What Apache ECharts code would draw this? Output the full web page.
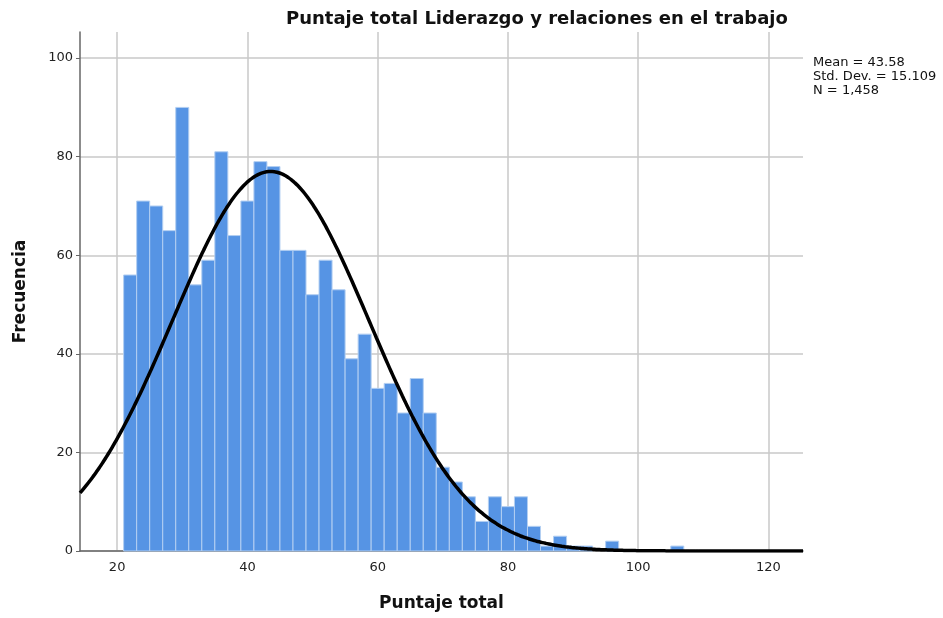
<!DOCTYPE html>
<html lang="es">
<head>
	<meta charset="UTF-8">
	<title>Puntaje total Liderazgo y relaciones en el trabajo</title>
	<script src="https://cdn.jsdelivr.net/npm/echarts@6/dist/echarts.min.js"></script>
</head>
<body style="margin:0">
	<div id="main" style="width:943px; height:618px"></div>
	<script>
		// histograma: inicio de cada intervalo (ancho 2) y su frecuencia
		var binWidth = 2;
		var binStarts = [21, 23, 25, 27, 29, 31, 33, 35, 37, 39, 41, 43, 45, 47, 49, 51, 53, 55, 57, 59,
			61, 63, 65, 67, 69, 71, 73, 75, 77, 79, 81, 83, 85, 87, 89, 91, 93, 95, 97, 99, 101, 103, 105];
		var counts = [56, 71, 70, 65, 90, 54, 59, 81, 64, 71, 79, 78, 61, 61, 52, 59, 53, 39, 44, 33,
			34, 28, 35, 28, 17, 14, 11, 6, 11, 9, 11, 5, 1, 3, 1, 1, 0, 2, 0, 0, 0, 0, 1];
		var xTicks = [20, 40, 60, 80, 100, 120];
		var yTicks = [0, 20, 40, 60, 80, 100];
		// estadisticos que muestra el grafico
		var mean = 43.58;
		var sd = 15.109;
		var n = 1458;
		var xMin = 14.3, xMax = 125.3, yMax = 105.3;

		var bars = [];
		for (var i = 0; i < binStarts.length; i++) {
			if (counts[i] > 0) bars.push([binStarts[i], counts[i]]);
		}
		// curva normal ajustada con la media, desv. y N de arriba
		var curve = [];
		for (var x = xMin; x <= xMax + 0.001; x += 0.5) {
			var z = (x - mean) / sd;
			curve.push([x, n * binWidth * Math.exp(-0.5 * z * z) / (sd * Math.sqrt(2 * Math.PI))]);
		}

		var font = "'DejaVu Sans', Verdana, sans-serif";
		var myChart = echarts.init(document.getElementById("main"));
		myChart.setOption({
			animation: false,
			title: {
				text: "Puntaje total Liderazgo y relaciones en el trabajo",
				left: 281,
				top: 5,
				textStyle: { fontFamily: font, fontSize: 18, fontWeight: "bold", color: "#111" }
			},
			grid: { left: 80, right: 140, top: 32, bottom: 67 },
			xAxis: {
				type: "value",
				min: xMin,
				max: xMax,
				name: "Puntaje total",
				nameLocation: "middle",
				nameGap: 44,
				nameTextStyle: { fontFamily: font, fontSize: 17, fontWeight: "bold", color: "#111" },
				axisLine: { lineStyle: { color: "#666", width: 1.5 } },
				axisTick: { show: false, customValues: xTicks },
				axisLabel: { customValues: xTicks, fontFamily: font, fontSize: 13, color: "#222", margin: 10 },
				splitLine: { show: true, lineStyle: { color: "#c8c8c8", width: 1.5 } }
			},
			yAxis: {
				type: "value",
				min: 0,
				max: yMax,
				name: "Frecuencia",
				nameLocation: "middle",
				nameGap: 51,
				nameTextStyle: { fontFamily: font, fontSize: 17, fontWeight: "bold", color: "#111" },
				axisLine: { show: true, lineStyle: { color: "#666", width: 1.5 } },
				axisTick: { show: true, length: 4, customValues: yTicks, lineStyle: { color: "#666" } },
				axisLabel: { customValues: yTicks, fontFamily: font, fontSize: 13, color: "#222", margin: 7 },
				splitLine: { show: true, lineStyle: { color: "#c8c8c8", width: 1.5 } }
			},
			graphic: [{
				type: "text",
				left: 813,
				top: 56,
				style: {
					text: "Mean = 43.58\nStd. Dev. = 15.109\nN = 1,458",
					font: "13px " + font,
					lineHeight: 14,
					fill: "#111"
				}
			}],
			series: [{
				type: "custom",
				data: bars,
				encode: { x: 0, y: 1 },
				renderItem: function (params, api) {
					var p0 = api.coord([api.value(0), 0]);
					var p1 = api.coord([api.value(0) + binWidth, api.value(1)]);
					return {
						type: "rect",
						shape: { x: p0[0], y: p1[1], width: p1[0] - p0[0], height: p0[1] - p1[1] },
						style: { fill: "#5694e4", stroke: "#b3cff2", lineWidth: 1 }
					};
				},
				z: 2
			}, {
				type: "line",
				data: curve,
				showSymbol: false,
				smooth: true,
				lineStyle: { color: "#000", width: 3.5 },
				z: 3
			}]
		});
	</script>
</body>
</html>
